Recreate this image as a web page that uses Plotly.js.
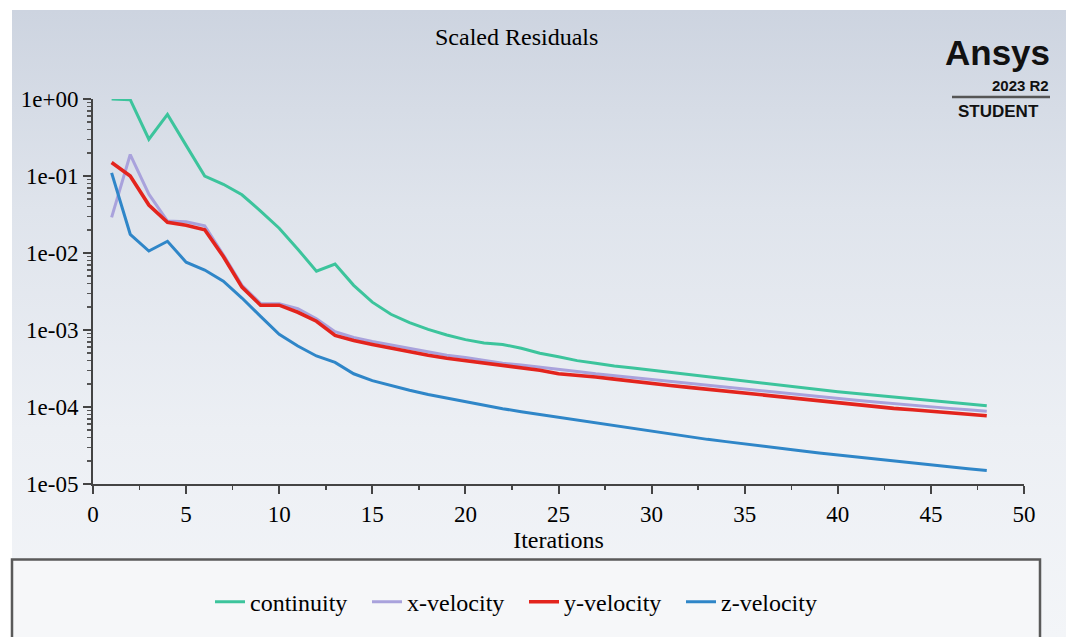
<!DOCTYPE html>
<html>
<head>
<meta charset="utf-8">
<script src="https://cdn.plot.ly/plotly-3.0.1.min.js"></script>
<style>
  html, body { margin: 0; padding: 0; background: #ffffff; width: 1066px; height: 637px; overflow: hidden; }
  #bg { position: absolute; left: 12px; top: 10px; width: 1054px; height: 627px;
        background: linear-gradient(to bottom, #cdd4e0 0px, #dfe4ec 200px, #eceff4 420px, #f3f5f8 627px); }
  #chart { position: absolute; left: 0; top: 0; width: 1066px; height: 637px; }
</style>
</head>
<body>
<div id="bg"></div>
<div id="chart"></div>
<script>
// ---- data ----
const iterations = [1,2,3,4,5,6,7,8,9,10,11,12,13,14,15,16,17,18,19,20,21,22,23,24,25,26,27,28,29,30,31,32,33,34,35,36,37,38,39,40,41,42,43,44,45,46,47,48];

const continuity = [1.0,0.98,0.30,0.63,0.25,0.10,0.078,0.057,0.035,0.021,0.0112,0.0058,0.0072,0.0038,0.0023,0.0016,0.00125,0.00102,0.00086,0.00075,0.00068,0.00065,0.00058,0.0005,0.00045,0.0004,0.00037,0.00034,0.00032,0.0003,0.00028,0.000262,0.000245,0.00023,0.000215,0.000202,0.00019,0.000178,0.000167,0.000158,0.00015,0.000142,0.000135,0.000128,0.000121,0.000115,0.000109,0.000104];

const xVelocity = [0.029,0.19,0.058,0.026,0.0255,0.0225,0.0095,0.0038,0.0022,0.0022,0.0019,0.0014,0.00095,0.0008,0.00071,0.00064,0.00057,0.00052,0.00047,0.00044,0.0004,0.00037,0.00035,0.00033,0.00031,0.00029,0.00027,0.000255,0.00024,0.000225,0.000213,0.0002,0.00019,0.00018,0.00017,0.00016,0.000152,0.000144,0.000136,0.000129,0.000122,0.000116,0.00011,0.000105,0.0001,0.000096,0.000092,0.000088];

const yVelocity = [0.15,0.10,0.042,0.025,0.023,0.020,0.009,0.0036,0.0021,0.0021,0.0017,0.0013,0.00085,0.00073,0.00065,0.00058,0.00052,0.00047,0.00043,0.0004,0.00037,0.00034,0.00032,0.0003,0.00027,0.00026,0.000245,0.00023,0.000215,0.0002,0.00019,0.00018,0.00017,0.000158,0.00015,0.000142,0.000134,0.000126,0.000119,0.000113,0.000107,0.000101,0.000096,0.000092,0.000088,0.000084,0.00008,0.000077];

const zVelocity = [0.11,0.0175,0.0106,0.0142,0.0076,0.006,0.0043,0.0026,0.0015,0.00088,0.00062,0.00046,0.00038,0.00027,0.00022,0.00019,0.000165,0.000145,0.00013,0.000116,0.000104,0.000095,0.000087,0.00008,0.000073,0.000067,0.000062,0.000057,0.000052,0.000048,0.0000445,0.000041,0.000038,0.0000355,0.000033,0.0000308,0.0000288,0.000027,0.0000253,0.0000238,0.0000224,0.0000211,0.0000199,0.0000188,0.0000177,0.0000167,0.0000158,0.000015];

const seriesNames = ["continuity", "x-velocity", "y-velocity", "z-velocity"];
const yTickVals = [1, 0.1, 0.01, 0.001, 0.0001, 0.00001];
const yTickText = ["1e+00", "1e-01", "1e-02", "1e-03", "1e-04", "1e-05"];

// ---- styling ----
const colors = ["#3cc49c", "#a9a2dc", "#e3241d", "#2f86c8"];
const widths = [3, 3, 3.6, 3];
const serif = "Liberation Serif, Times New Roman, serif";
const sans = "Liberation Sans, Arial, sans-serif";

// minor tick positions (2..9 within each decade) for the log axis
const minorVals = [];
for (let e = -5; e < 0; e++) for (let m = 2; m <= 9; m++) minorVals.push(m * Math.pow(10, e));

const allSeries = [continuity, xVelocity, yVelocity, zVelocity];
const traces = allSeries.map((vals, i) => ({
  x: iterations,
  y: vals,
  type: "scatter",
  mode: "lines",
  name: seriesNames[i],
  line: { color: colors[i], width: widths[i] }
}));

const L = 93, R = 1024, T = 99, B = 487;
const px2x = p => (p - L) / (R - L);
const py2y = p => (B - p) / (B - T);

const layout = {
  width: 1066,
  height: 637,
  margin: { l: L, r: 1066 - R, t: T, b: 637 - B },
  paper_bgcolor: "rgba(0,0,0,0)",
  plot_bgcolor: "rgba(0,0,0,0)",
  font: { family: serif, size: 23, color: "#000" },
  showlegend: true,
  legend: {
    orientation: "h",
    x: px2x(524), xanchor: "center",
    y: py2y(606), yanchor: "middle",
    bgcolor: "rgba(0,0,0,0)",
    borderwidth: 0,
    font: { family: serif, size: 24, color: "#000" },
    itemwidth: 30,
    entrywidth: 112
  },
  xaxis: {
    range: [0, 50],
    dtick: 5,
    tick0: 0,
    showgrid: false,
    zeroline: false,
    showline: true,
    linecolor: "#444",
    linewidth: 2,
    ticks: "outside",
    ticklen: 8,
    tickwidth: 2,
    tickcolor: "#444",
    tickfont: { family: serif, size: 23, color: "#000" },
    minor: { dtick: 2.5, ticks: "outside", ticklen: 4, tickwidth: 1.5, tickcolor: "#444", showgrid: false },
    title: { text: "Iterations", font: { family: serif, size: 24, color: "#000" }, standoff: 6 }
  },
  yaxis: {
    type: "log",
    range: [-5, 0],
    tickmode: "array",
    tickvals: yTickVals,
    ticktext: yTickText,
    showgrid: false,
    zeroline: false,
    showline: true,
    linecolor: "#444",
    linewidth: 2,
    ticks: "outside",
    ticklen: 8,
    tickwidth: 2,
    tickcolor: "#444",
    tickfont: { family: serif, size: 23, color: "#000" },
    minor: { tickmode: "array", tickvals: minorVals, ticks: "outside", ticklen: 4, tickwidth: 1.5, tickcolor: "#555", showgrid: false }
  },
  shapes: [
    {
      type: "rect", xref: "paper", yref: "paper",
      x0: px2x(12), x1: px2x(1040), y0: py2y(563), y1: py2y(645),
      line: { color: "#5a5a5a", width: 2.5 },
      fillcolor: "#f6f7f9", layer: "below"
    },
    {
      type: "line", xref: "paper", yref: "paper",
      x0: px2x(952), x1: px2x(1050), y0: py2y(97), y1: py2y(97),
      line: { color: "#555", width: 2.5 }
    }
  ],
  annotations: [
    {
      text: "Scaled Residuals", xref: "paper", yref: "paper",
      x: px2x(516), y: py2y(37), xanchor: "center", yanchor: "middle",
      showarrow: false, font: { family: serif, size: 24, color: "#000" }
    },
    {
      text: "<b>Ansys</b>", xref: "paper", yref: "paper",
      x: px2x(1052), y: py2y(52), xanchor: "right", yanchor: "middle",
      showarrow: false, font: { family: sans, size: 35, color: "#111" }
    },
    {
      text: "<b>2023 R2</b>", xref: "paper", yref: "paper",
      x: px2x(1051), y: py2y(85), xanchor: "right", yanchor: "middle",
      showarrow: false, font: { family: sans, size: 15, color: "#111" }
    },
    {
      text: "<b>STUDENT</b>", xref: "paper", yref: "paper",
      x: px2x(998), y: py2y(112), xanchor: "center", yanchor: "middle",
      showarrow: false, font: { family: sans, size: 17, color: "#111" }
    }
  ]
};

Plotly.newPlot("chart", traces, layout, { displayModeBar: false, staticPlot: true });
</script>
</body>
</html>
